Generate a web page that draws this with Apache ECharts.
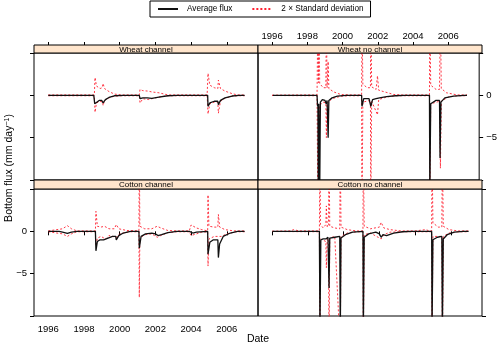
<!DOCTYPE html>
<html>
<head>
<meta charset="utf-8">
<script src="https://cdn.jsdelivr.net/npm/echarts@6/dist/echarts.min.js"></script>
<style>html,body{margin:0;padding:0;background:#fff}#chart{width:500px;height:343px}</style>
</head>
<body>
<div id="chart"></div>
<script>
// tick values
var xTicks = [1996, 1998, 2000, 2002, 2004, 2006];
var yTicks = [5, 0, -5, -10];
var yLabels = [0, -5];

// Wheat channel
var wcAvg = [[1996.0,0],[1998.55,0],[1998.6,-1.0],[1998.7,-0.8],[1998.85,-0.6],[1999.0,-0.6],[1999.07,-0.9],[1999.2,-0.5],[1999.4,-0.25],[1999.7,-0.05],[2000.2,0],[2001.1,0],[2001.14,-0.4],[2001.3,-0.3],[2001.55,-0.3],[2001.64,-0.5],[2001.8,-0.35],[2002.2,-0.2],[2002.7,-0.05],[2003.2,0],[2004.93,0],[2004.95,-1.3],[2005.05,-0.9],[2005.3,-0.7],[2005.5,-0.7],[2005.53,-1.1],[2005.65,-0.6],[2005.9,-0.3],[2006.3,-0.08],[2006.7,0],[2007.0,0]];
var wcSdUp = [[1996,0.05],[1998.58,0.05],[1998.62,2.1],[1998.7,1.1],[1998.9,0.8],[1999.02,0.9],[1999.07,1.4],[1999.15,0.8],[1999.4,0.45],[1999.7,0.15],[2000.1,0.05],[2001.1,0.05],[2001.14,0.7],[2001.3,0.55],[2001.6,0.5],[2001.8,0.4],[2002.2,0.3],[2002.7,0.05],[2004.9,0.05],[2004.95,2.6],[2005.05,1.2],[2005.3,0.9],[2005.5,0.8],[2005.53,1.8],[2005.65,0.8],[2005.9,0.5],[2006.3,0.2],[2006.6,0.05],[2007,0.05]];
var wcSdLo = [[1996,-0.05],[1998.58,-0.05],[1998.62,-2.0],[1998.7,-0.9],[1998.9,-0.7],[1999.05,-0.8],[1999.07,-1.2],[1999.15,-0.6],[1999.4,-0.3],[1999.7,-0.1],[2000.1,-0.05],[2001.1,-0.05],[2001.14,-0.9],[2001.3,-0.4],[2001.6,-0.5],[2001.8,-0.4],[2002.2,-0.2],[2002.7,-0.05],[2004.9,-0.05],[2004.95,-2.2],[2005.05,-1.0],[2005.3,-0.8],[2005.5,-0.8],[2005.53,-2.1],[2005.65,-0.7],[2005.9,-0.35],[2006.3,-0.1],[2006.6,-0.05],[2007,-0.05]];

// Wheat no channel
var wnAvg = [[1996.04,0],[1998.55,0],[1998.58,-1.3],[1998.6,-1.0],[1998.62,-12],[1998.65,-1.0],[1998.7,-12],[1998.74,-0.8],[1998.85,-0.5],[1999.0,-0.6],[1999.07,-1.0],[1999.12,-0.6],[1999.18,-5.0],[1999.22,-0.6],[1999.4,-0.3],[1999.7,-0.1],[2000.2,0],[2001.08,0],[2001.1,-1.3],[2001.2,-0.4],[2001.5,-0.4],[2001.6,-1.3],[2001.7,-0.5],[2001.9,-0.4],[2001.98,-0.5],[2002.1,-0.3],[2002.5,-0.15],[2003.0,-0.05],[2003.5,0],[2004.93,0],[2004.95,-12],[2005.0,-1.0],[2005.3,-0.6],[2005.5,-0.6],[2005.53,-7.4],[2005.58,-0.8],[2005.8,-0.3],[2006.3,-0.1],[2006.9,0],[2007.06,0]];
var wnSdUp = [[1996,0.02],[1998.55,0.05],[1998.6,10],[1998.63,1.5],[1998.66,10],[1998.7,1.4],[1998.9,0.9],[1999.05,0.9],[1999.08,10],[1999.12,0.9],[1999.16,0.9],[1999.18,4.0],[1999.22,0.8],[1999.5,0.4],[1999.9,0.1],[2000.4,0.05],[2001.08,0.05],[2001.1,10],[2001.15,1.3],[2001.4,0.9],[2001.58,0.9],[2001.6,10],[2001.65,1.0],[2001.9,0.7],[2001.98,2.3],[2002.05,0.6],[2002.4,0.4],[2002.9,0.1],[2003.4,0.05],[2004.93,0.05],[2004.95,10],[2005.0,1.2],[2005.3,0.7],[2005.5,0.7],[2005.55,10],[2005.6,0.8],[2005.9,0.3],[2006.5,0.05],[2007.06,0.05]];
var wnSdLo = [[1996,-0.02],[1998.55,-0.05],[1998.6,-14],[1998.63,-1.5],[1998.66,-14],[1998.7,-1.2],[1998.9,-0.8],[1999.05,-0.9],[1999.08,-5.0],[1999.12,-0.9],[1999.4,-0.4],[1999.9,-0.1],[2000.4,-0.05],[2001.08,-0.05],[2001.1,-14],[2001.15,-0.8],[2001.58,-0.6],[2001.6,-14],[2001.65,-0.7],[2001.98,-2.3],[2002.05,-0.5],[2002.5,-0.2],[2003.0,-0.05],[2004.93,-0.05],[2004.95,-14],[2005.0,-1.0],[2005.5,-0.7],[2005.55,-8.6],[2005.6,-0.7],[2006.0,-0.2],[2006.5,-0.05],[2007.06,-0.05]];

// Cotton channel
var ccAvg = [[1996,0],[1996.6,0],[1996.8,-0.1],[1997.07,-0.25],[1997.3,-0.1],[1997.6,0],[1998.64,0],[1998.67,-2.3],[1998.75,-1.2],[1998.9,-1.0],[1999.1,-1.0],[1999.21,-1.2],[1999.35,-0.8],[1999.6,-0.6],[1999.78,-0.6],[1999.81,-1.0],[1999.95,-0.5],[2000.2,-0.2],[2000.6,0],[2001.08,0],[2001.1,-2.0],[2001.2,-0.6],[2001.45,-0.3],[2001.8,-0.2],[2002.0,-0.3],[2002.15,-0.5],[2002.35,-0.4],[2002.7,-0.15],[2003.2,0],[2003.9,0],[2004.1,-0.2],[2004.3,-0.1],[2004.93,0],[2004.95,-2.7],[2005.05,-1.3],[2005.25,-1.0],[2005.5,-1.0],[2005.53,-3.1],[2005.6,-1.5],[2005.8,-0.6],[2006.2,-0.2],[2006.6,0],[2007,0]];
var ccSdUp = [[1996,0.05],[1996.8,0.3],[1997.07,0.67],[1997.3,0.3],[1997.6,0.05],[1998.64,0.05],[1998.67,2.36],[1998.75,0.6],[1998.95,0.5],[1999.15,0.6],[1999.21,0.75],[1999.4,0.3],[1999.7,0.3],[1999.81,0.8],[1999.95,0.3],[2000.4,0.1],[2001.08,0.05],[2001.1,10],[2001.13,0.6],[2001.4,0.3],[2001.8,0.3],[2002.1,0.6],[2002.3,0.4],[2002.7,0.1],[2003.2,0.05],[2003.9,0.05],[2004.0,0.75],[2004.3,0.4],[2004.6,0.2],[2004.93,0.05],[2004.95,4.3],[2005.0,0.6],[2005.3,0.5],[2005.5,0.5],[2005.53,2.0],[2005.6,0.5],[2005.9,0.2],[2006.4,0.05],[2007,0.05]];
var ccSdLo = [[1996,-0.05],[1996.8,-0.3],[1997.07,-0.6],[1997.3,-0.3],[1997.6,-0.05],[1998.64,-0.05],[1998.67,-1.7],[1998.75,-0.8],[1998.95,-0.6],[1999.21,-0.9],[1999.4,-0.5],[1999.81,-0.7],[2000.0,-0.3],[2000.5,-0.05],[2001.08,-0.05],[2001.1,-7.8],[2001.13,-0.8],[2001.4,-0.4],[2001.8,-0.3],[2002.1,-0.7],[2002.3,-0.5],[2002.7,-0.15],[2003.2,-0.05],[2003.9,-0.05],[2004.0,-0.5],[2004.3,-0.3],[2004.6,-0.1],[2004.93,-0.05],[2004.95,-4.1],[2005.0,-0.9],[2005.3,-0.6],[2005.5,-0.6],[2005.53,-0.5],[2005.7,-0.6],[2006.0,-0.3],[2006.5,-0.05],[2007,-0.05]];

// Cotton no channel
var cnAvg = [[1996,0],[1998.64,0],[1998.67,-12],[1998.72,-1.0],[1998.85,-0.9],[1999.0,-0.9],[1999.06,-1.0],[1999.12,-0.7],[1999.18,-6.7],[1999.22,-0.8],[1999.5,-0.7],[1999.78,-0.6],[1999.81,-12],[1999.85,-0.8],[2000.1,-0.4],[2000.5,-0.1],[2001.08,0],[2001.1,-12],[2001.15,-0.7],[2001.4,-0.3],[2001.8,-0.1],[2002.0,-0.3],[2002.1,-0.7],[2002.2,-0.4],[2002.4,-0.5],[2002.8,-0.2],[2003.3,-0.05],[2003.8,0],[2004.93,0],[2004.95,-12],[2005.0,-1.0],[2005.25,-0.7],[2005.5,-0.6],[2005.53,-12],[2005.58,-0.9],[2005.8,-0.4],[2006.2,-0.1],[2006.7,0],[2007,0]];
var cnSdUp = [[1996,0.02],[1997.0,0.05],[1997.2,0.2],[1997.5,0.05],[1998.64,0.05],[1998.67,10],[1998.7,0.8],[1998.85,0.4],[1999.0,0.8],[1999.03,3.0],[1999.08,0.5],[1999.15,0.8],[1999.18,10],[1999.22,0.6],[1999.5,0.4],[1999.78,0.3],[1999.81,10],[1999.85,0.5],[2000.2,0.2],[2000.7,0.05],[2001.08,0.05],[2001.1,10],[2001.15,0.6],[2001.5,0.3],[2002.0,0.5],[2002.1,1.06],[2002.25,0.4],[2002.6,0.2],[2003.2,0.05],[2004.0,0.05],[2004.1,0.2],[2004.6,0.2],[2004.8,0.05],[2004.93,0.05],[2004.95,10],[2005.0,1.0],[2005.3,0.5],[2005.5,0.5],[2005.53,10],[2005.58,0.6],[2005.9,0.2],[2006.4,0.05],[2007,0.05]];
var cnSdLo = [[1996,-0.02],[1998.64,-0.05],[1998.67,-14],[1998.7,-0.9],[1999.0,-1.2],[1999.03,-4.3],[1999.08,-0.8],[1999.15,-1.2],[1999.18,-14],[1999.22,-0.8],[1999.5,-0.6],[1999.81,-14],[1999.85,-0.6],[2000.2,-0.2],[2000.7,-0.05],[2001.08,-0.05],[2001.1,-14],[2001.15,-0.4],[2001.5,-0.2],[2002.1,-0.9],[2002.25,-0.4],[2002.6,-0.1],[2003.2,-0.05],[2004.93,-0.05],[2004.95,-14],[2005.0,-0.6],[2005.5,-0.6],[2005.53,-14],[2005.58,-0.6],[2005.9,-0.2],[2006.4,-0.05],[2007,-0.05]];

var panelNames = ['Wheat channel', 'Wheat no channel', 'Cotton channel', 'Cotton no channel'];
var avgData = [wcAvg, wnAvg, ccAvg, cnAvg];
var upData = [wcSdUp, wnSdUp, ccSdUp, cnSdUp];
var loData = [wcSdLo, wnSdLo, ccSdLo, cnSdLo];

var FONT = 'Liberation Sans, Arial, Helvetica, sans-serif';
var X_MIN = 1995.2, X_MAX = 2007.75;
var PW = 224, PH = 127;
var RED = '#ff1f2f';
var geo = [
  {left: 34, top: 53, stripTop: 45, stripH: 8, row: 0, col: 0},
  {left: 258, top: 53, stripTop: 45, stripH: 8, row: 0, col: 1},
  {left: 34, top: 189, stripTop: 180, stripH: 9, row: 1, col: 0},
  {left: 258, top: 189, stripTop: 180, stripH: 9, row: 1, col: 1}
];

var chart = echarts.init(document.getElementById('chart'), null, {renderer: 'canvas'});

var grids = [], xAxes = [], yAxes = [], series = [], graphics = [];

geo.forEach(function (g, i) {
  grids.push({left: g.left, top: g.top, width: PW, height: PH, show: true,
    borderColor: '#000', borderWidth: 1, backgroundColor: 'transparent'});

  // bottom axis
  var bottomShow = g.row === 1;
  xAxes.push({
    gridIndex: i, type: 'value', min: X_MIN, max: X_MAX, position: 'bottom',
    axisLine: {show: false}, splitLine: {show: false},
    axisTick: {show: bottomShow, length: 4, customValues: xTicks, lineStyle: {color: '#000'}},
    axisLabel: {show: bottomShow && g.col === 0, customValues: xTicks, margin: 8,
      color: '#000', fontSize: 9.5, fontFamily: FONT,
      formatter: function (v) { return String(v); }}
  });

  // y axis
  yAxes.push({
    gridIndex: i, type: 'value', min: -10, max: 5, interval: 5,
    position: g.col === 0 ? 'left' : 'right',
    axisLine: {show: false}, splitLine: {show: false},
    axisTick: {show: true, length: 4, customValues: yTicks, lineStyle: {color: '#000'}},
    axisLabel: {show: (g.row === 1 && g.col === 0) || (g.row === 0 && g.col === 1),
      customValues: yLabels, margin: 7, color: '#000', fontSize: 9.5, fontFamily: FONT,
      formatter: function (v) { return v < 0 ? '\u2212' + Math.abs(v) : String(v); }}
  });

  // strip
  graphics.push({type: 'rect', shape: {x: g.left, y: g.stripTop, width: PW, height: g.stripH},
    style: {fill: '#FFE5CC', stroke: '#000', lineWidth: 1}, z: 10});
  graphics.push({type: 'text', x: g.left + PW / 2, y: g.stripTop + g.stripH / 2 + 0.5, z: 11,
    style: {text: panelNames[i], fill: '#000', fontSize: 8, fontFamily: FONT,
      align: 'center', verticalAlign: 'middle'}});

  series.push({name: '2 \u00d7 Standard deviation', type: 'line', xAxisIndex: i, yAxisIndex: i,
    data: upData[i], symbol: 'none', lineStyle: {color: RED, width: 0.9, type: [2, 2]},
    itemStyle: {color: RED}});
  series.push({name: '2 \u00d7 Standard deviation', type: 'line', xAxisIndex: i, yAxisIndex: i,
    data: loData[i], symbol: 'none', lineStyle: {color: RED, width: 0.9, type: [2, 2]},
    itemStyle: {color: RED}});
  series.push({name: 'Average flux', type: 'line', xAxisIndex: i, yAxisIndex: i,
    data: avgData[i], symbol: 'none', lineStyle: {color: '#111', width: 1.3},
    itemStyle: {color: '#111'}});
});

// top axes above the strips of the first row
[0, 1].forEach(function (i) {
  xAxes.push({
    gridIndex: i, type: 'value', min: X_MIN, max: X_MAX, position: 'top', offset: 8,
    axisLine: {show: false}, splitLine: {show: false},
    axisTick: {show: true, length: 3, customValues: xTicks, lineStyle: {color: '#000'}},
    axisLabel: {show: i === 1, customValues: xTicks, margin: 4,
      color: '#000', fontSize: 9.5, fontFamily: FONT,
      formatter: function (v) { return String(v); }}
  });
});

graphics.push({type: 'text', x: 258, y: 339, style: {text: 'Date', fill: '#000', fontSize: 10.5,
  fontFamily: FONT, align: 'center', verticalAlign: 'middle'}});
graphics.push({type: 'text', x: 9, y: 168, rotation: Math.PI / 2,
  style: {text: 'Bottom flux (mm day{s|\u22121})', fill: '#000', fontSize: 10.5, fontFamily: FONT,
    align: 'center', verticalAlign: 'middle',
    rich: {s: {fontSize: 7, fontFamily: FONT, verticalAlign: 'top'}}}});

chart.setOption({
  animation: false,
  backgroundColor: '#fff',
  legend: {
    left: 150, top: 1, orient: 'horizontal',
    data: ['Average flux', '2 \u00d7 Standard deviation'],
    borderColor: '#000', borderWidth: 1, padding: [4, 7, 4, 7],
    itemWidth: 20, itemHeight: 9, itemGap: 19,
    itemStyle: {opacity: 0},
    textStyle: {fontSize: 8.2, fontFamily: FONT, color: '#000', padding: [0, 0, 0, 4]}
  },
  grid: grids,
  xAxis: xAxes,
  yAxis: yAxes,
  graphic: graphics,
  series: series
});
</script>
</body>
</html>
